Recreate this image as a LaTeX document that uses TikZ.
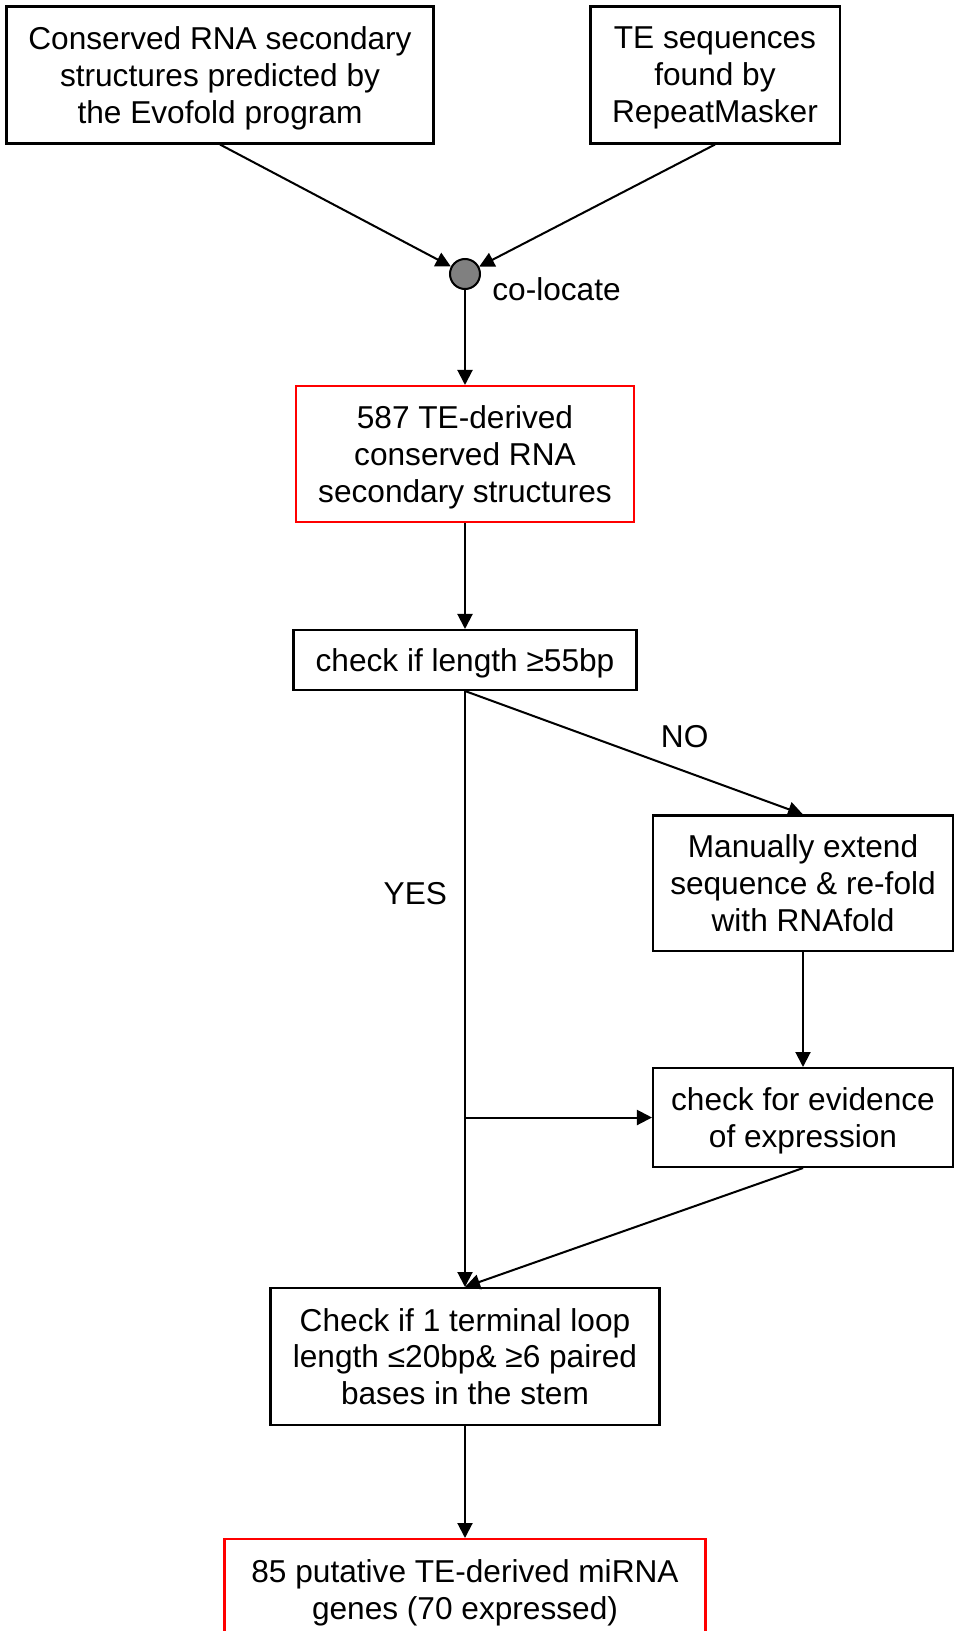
\documentclass[tikz,border=0pt]{standalone}
\usepackage{fontspec}
\setmainfont{Liberation Sans}
\usepackage{tikz}
\usetikzlibrary{shapes,arrows.meta,positioning,calc}
\tikzset{
block/.style = {draw, fill=white, rectangle, align=center, inner sep=0pt, text depth=-4.5pt, line width=1.15pt},
redblock/.style = {block, draw=red},
tmp/.style  = {coordinate},
dot/.style= {draw, fill=gray, circle, minimum size=0.6cm, inner sep=0pt, line width=1.15pt},
lbl/.style = {inner sep=0pt},
flow/.style = {->, line width=1.15pt}
}

\begin{document}
\begin{tikzpicture}[auto, node distance=2.5cm, >={Triangle[length=0.3cm,width=0.3cm]}, font=\fontsize{18}{21}\selectfont]
					\useasboundingbox (0,0) rectangle (19.1,-32.62);
					\node[block, minimum width=8.54cm, minimum height=2.74cm] (evofold) at (4.40,-1.50) {Conserved RNA secondary\\structures predicted by\\the Evofold program};
					\node[block, minimum width=4.98cm, minimum height=2.74cm] (repeat) at (14.30,-1.50) {TE sequences\\found by\\RepeatMasker};
					\node[dot] (colocate) at (9.30,-5.48) {};
					\node[lbl, right=0.22cm of colocate, yshift=-0.3cm] (collbl) {co-locate};
					\node[redblock, below of=colocate, node distance=3.60cm, minimum width=6.76cm, minimum height=2.72cm] (te587) {587 TE-derived\\conserved RNA\\secondary structures};
					\node[block, below of=te587, node distance=4.12cm, minimum width=6.86cm, minimum height=1.2cm] (len) {check if length ≥55bp};
					\node[block, minimum width=6.0cm, minimum height=2.7cm] (extend) at (16.06,-17.66) {Manually extend\\sequence \& re-fold\\with RNAfold};
					\node[block, below of=extend, node distance=4.69cm, minimum width=6.0cm, minimum height=1.98cm] (expr) {check for evidence\\of expression};
					\node[block, below of=len, node distance=13.93cm, minimum width=7.78cm, minimum height=2.74cm] (loop) {Check if 1 terminal loop\\length ≤20bp\& ≥6 paired\\bases in the stem};
					\node[redblock, below of=loop, node distance=4.66cm, minimum width=9.62cm, minimum height=2.02cm] (mirna) {85 putative TE-derived miRNA\\genes (70 expressed)};
					\node[tmp] (split) at (len.south |- expr.west) {};
					\draw[flow] (evofold.south) -- (colocate);
					\draw[flow] (repeat.south) -- (colocate);
					\draw[flow] (colocate) -- (te587);
					\draw[flow] (te587) -- (len);
					\draw[flow] (len.south) -- node[lbl, pos=0.65, above=0.45cm] {NO} (extend.north);
					\draw[flow] (len.south) -- node[lbl, pos=0.34, left=0.34cm] {YES} (loop.north);
					\draw[flow] (split) -- (expr.west);
					\draw[flow] (extend) -- (expr);
					\draw[flow] (expr.south) -- (loop.north);
					\draw[flow] (loop) -- (mirna);
				\end{tikzpicture}
\end{document}
